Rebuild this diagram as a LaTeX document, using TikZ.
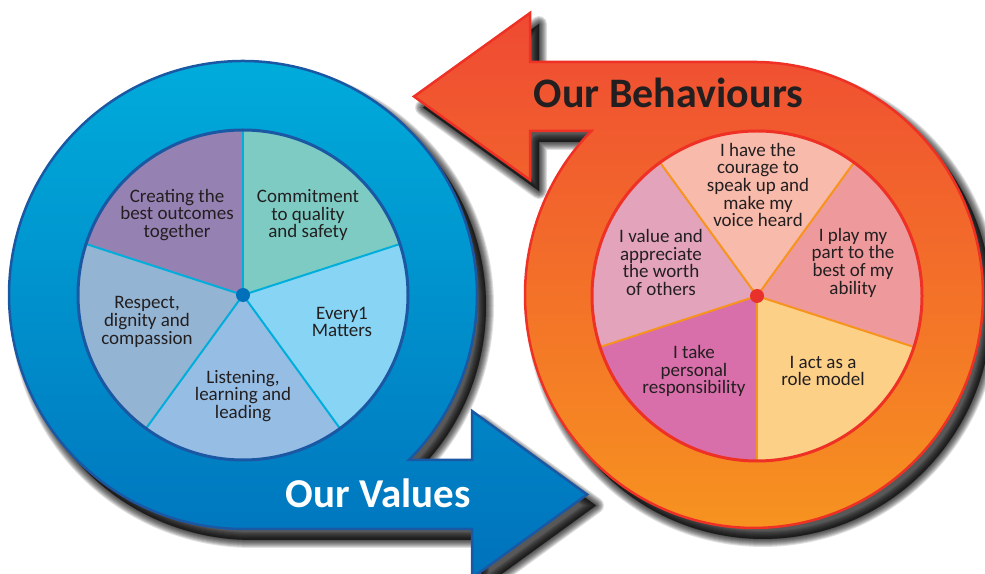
\documentclass[tikz,border=0pt]{standalone}
\usepackage{fontspec}
\setmainfont{Carlito}
\definecolor{btop}{HTML}{00AEDC}
\definecolor{bbot}{HTML}{0072BC}
\definecolor{bborder}{HTML}{1B58A4}
\definecolor{bdiv}{HTML}{00AEDB}
\definecolor{bdot}{HTML}{0070BA}
\definecolor{otop}{HTML}{EF4A33}
\definecolor{obot}{HTML}{F7961F}
\definecolor{oborder}{HTML}{EE3124}
\definecolor{odiv}{HTML}{F7941D}
\definecolor{odot}{HTML}{E8312A}
\definecolor{txt}{HTML}{231F20}
\definecolor{sA}{HTML}{9681B3}
\definecolor{sB}{HTML}{7ECBC3}
\definecolor{sC}{HTML}{87D4F4}
\definecolor{sD}{HTML}{96BDE4}
\definecolor{sE}{HTML}{94B4D3}
\definecolor{tA}{HTML}{F8BAAA}
\definecolor{tB}{HTML}{EE999B}
\definecolor{tC}{HTML}{FCD087}
\definecolor{tD}{HTML}{D86FAA}
\definecolor{tE}{HTML}{E2A3BB}
\tikzset{
  shadowlayer/.style={fill=black, draw=black, line width=#1, opacity=0.12, line join=round, shift={(9,-11)}},
  pietext/.style={align=center, text=txt, inner sep=0pt, font=\fontsize{19}{17.7}\selectfont},
  title/.style={inner sep=0pt, anchor=base, font=\fontsize{42}{44}\selectfont\bfseries},
  bdivline/.style={draw=bdiv, line width=2pt},
  odivline/.style={draw=odiv, line width=2pt}
}
\newcommand{\orangeoutline}{(754,511) -- (530,511) -- (530,560) -- (414,476.5) -- (530,393) -- (530,442) -- (591.3,442)
  arc[start angle=135.27, end angle=450, x radius=229pt, y radius=233pt] -- cycle}
\newcommand{\blueoutline}{(408.9,113) arc[start angle=-44.85, end angle=270, radius=234pt]
  -- (472,44) -- (472,-5) -- (587,78.5) -- (472,162) -- (472,113) -- cycle}
\begin{document}
\begin{tikzpicture}[x=1pt,y=1pt]
\useasboundingbox (0,0) rectangle (985,573);
\fill[white] (0,0) rectangle (985,573);

% ---------- shadows ----------
\foreach \w in {16,14,12,10,8,6,4,2} {
  \path[shadowlayer=\w pt] \orangeoutline;
  \path[shadowlayer=\w pt] \blueoutline;
}

% ---------- orange shape (Our Behaviours) ----------
\path[draw=oborder, line width=2.5pt, top color=otop, bottom color=obot] \orangeoutline;

% ---------- blue shape (Our Values) ----------
\path[draw=bborder, line width=2.5pt, top color=btop, bottom color=bbot] \blueoutline;

% ---------- blue pie ----------
\coordinate (bc) at (243,278);
\fill[sA] (bc) -- ++(90:165pt) arc[start angle=90, end angle=162, radius=165pt] -- cycle;
\fill[sB] (bc) -- ++(18:165pt) arc[start angle=18, end angle=90, radius=165pt] -- cycle;
\fill[sC] (bc) -- ++(-54:165pt) arc[start angle=-54, end angle=18, radius=165pt] -- cycle;
\fill[sD] (bc) -- ++(-126:165pt) arc[start angle=-126, end angle=-54, radius=165pt] -- cycle;
\fill[sE] (bc) -- ++(162:165pt) arc[start angle=162, end angle=234, radius=165pt] -- cycle;
\foreach \a in {90,18,-54,-126,162} \draw[bdivline] (bc) -- ++(\a:165pt);
\draw[draw=bborder, line width=3pt] (bc) circle[radius=165pt];
\fill[bdot] (bc) circle[radius=7pt];

% ---------- orange pie ----------
\coordinate (oc) at (757,277);
\fill[tA] (oc) -- ++(54:165pt) arc[start angle=54, end angle=126, radius=165pt] -- cycle;
\fill[tB] (oc) -- ++(-18:165pt) arc[start angle=-18, end angle=54, radius=165pt] -- cycle;
\fill[tC] (oc) -- ++(-90:165pt) arc[start angle=-90, end angle=-18, radius=165pt] -- cycle;
\fill[tD] (oc) -- ++(198:165pt) arc[start angle=198, end angle=270, radius=165pt] -- cycle;
\fill[tE] (oc) -- ++(126:165pt) arc[start angle=126, end angle=198, radius=165pt] -- cycle;
\foreach \a in {126,54,-18,-90,198} \draw[odivline] (oc) -- ++(\a:165pt);
\draw[draw=oborder, line width=3pt] (oc) circle[radius=165pt];
\fill[odot] (oc) circle[radius=7pt];

% ---------- values texts ----------
\node[pietext] (v1) at (177,358) {Creating the\\best outcomes\\together};
\node[pietext] (v2) at (308,358) {Commitment\\to quality\\and safety};
\node[pietext] (v3) at (342,251) {Every1\\Matters};
\node[pietext] (v4) at (243,177) {Listening,\\learning and\\leading};
\node[pietext] (v5) at (147,251) {Respect,\\dignity and\\compassion};

% ---------- behaviours texts ----------
\node[pietext] (b1) at (758,388) {I have the\\courage to\\speak up and\\make my\\voice heard};
\node[pietext] (b2) at (661,310.5) {I value and\\appreciate\\the worth\\of others};
\node[pietext] (b3) at (853,310.5) {I play my\\part to the\\best of my\\ability};
\node[pietext] (b4) at (694,202) {I take\\personal\\responsibility};
\node[pietext] (b5) at (823,202) {I act as a\\role model};

% ---------- titles ----------
\node[title, text=white, font=\fontsize{41}{44}\selectfont\bfseries] (tv) at (378,66) {Our Values};
\node[title, text=txt] (tb) at (668.5,465) {Our Behaviours};
\end{tikzpicture}
\end{document}
